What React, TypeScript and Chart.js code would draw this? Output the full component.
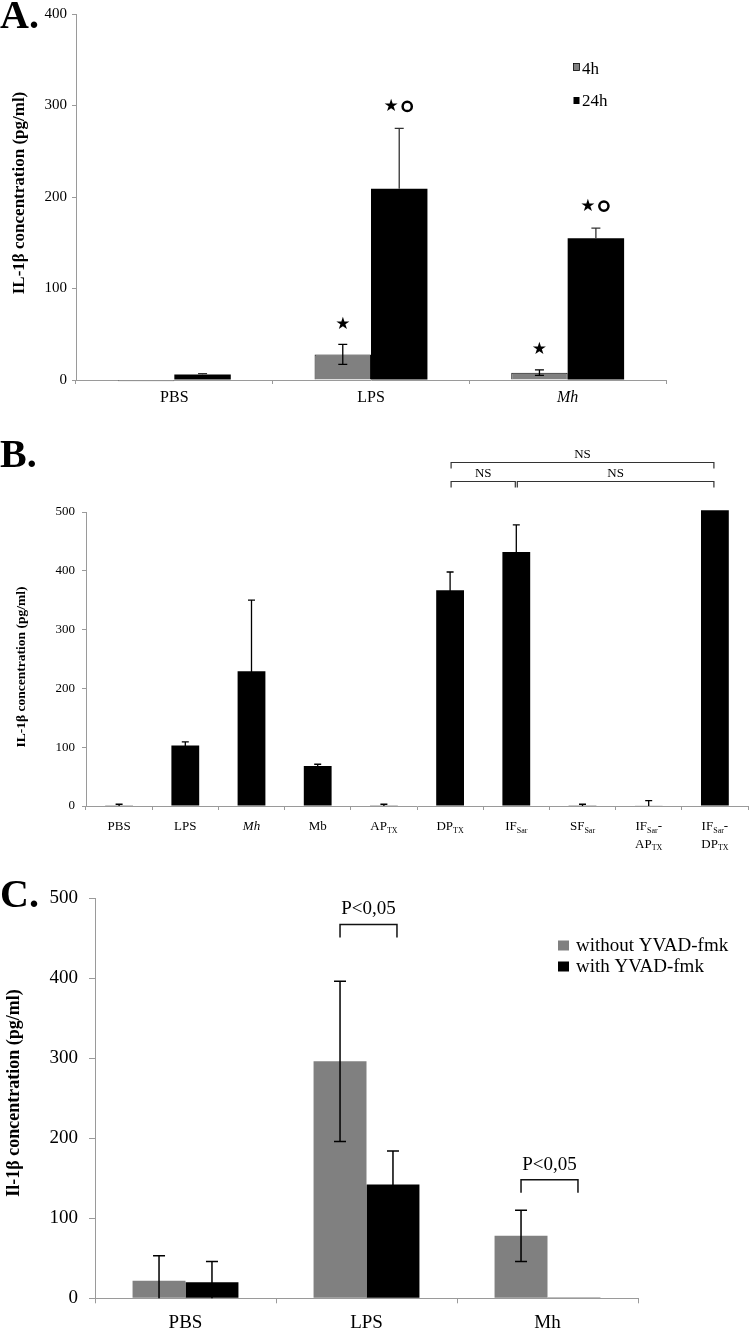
import React, { useEffect, useRef } from "react";
import { Chart, registerables } from "chart.js";

Chart.register(...registerables);

const SERIF = '"Liberation Serif", "Times New Roman", Times, serif';
const SYMBOL = '"DejaVu Sans", sans-serif';
const AXIS = "#9a9a9a";
const GRAY = "#808080";

// ---------- Panel A ----------
const aCategories = ["PBS", "LPS", "Mh"];
const aItalic = [false, false, true];
const aSeries = ["4h", "24h"];
const a4h = [-1.5, 28, 8];
const a4hErr = [0, 11, 3];
const a24h = [6, 209, 155];
const a24hErr = [1, 66, 11];
const a4hMarks = ["", "★", "★"];
const a24hMarks = ["", "★○", "★○"];
const aYTicks = [0, 100, 200, 300, 400];

// ---------- Panel B ----------
const bCategories = [
  "PBS",
  "LPS",
  "*Mh*",
  "Mb",
  "AP_{TX}",
  "DP_{TX}",
  "IF_{Sar}",
  "SF_{Sar}",
  "IF_{Sar}-|AP_{TX}",
  "IF_{Sar}-|DP_{TX}",
];
const bValues = [0.5, 103, 229, 68, 0.5, 367, 432, 0.5, 1, 503];
const bErr = [2.5, 6, 121, 3, 2.5, 31, 46, 2.5, 8, 0];
const bYTicks = [0, 100, 200, 300, 400, 500];
const bBrackets = [
  { from: 5, to: 9, level: 585, label: "NS" },
  { from: 5, to: 6, level: 553, label: "NS" },
  { from: 6, to: 9, level: 553, label: "NS" },
];

// ---------- Panel C ----------
const cCategories = ["PBS", "LPS", "Mh"];
const cSeries = ["without YVAD-fmk", "with YVAD-fmk"];
const cWithout = [22, 296, 78];
const cWithoutErr = [31, 100, 32];
const cWith = [20, 142, 1];
const cWithErr = [26, 42, 0];
const cYTicks = [0, 100, 200, 300, 400, 500];
const cBrackets = [
  { cat: 1, level: 467, label: "P<0,05" },
  { cat: 2, level: 148, label: "P<0,05" },
];

// ---------- helpers ----------
function drawErrors(chart: any, ds: number, vals: number[], errs: number[], cap: number, color: string, lw: number, lower = true) {
  const ctx = chart.ctx;
  const ys = chart.scales.y;
  const meta = chart.getDatasetMeta(ds);
  ctx.save();
  ctx.strokeStyle = color;
  ctx.lineWidth = lw;
  vals.forEach((v, i) => {
    const e = errs[i];
    if (!e) return;
    const x = meta.data[i].x;
    const top = ys.getPixelForValue(v + e);
    const bot = lower ? ys.getPixelForValue(Math.max(0, v - e)) : ys.getPixelForValue(v);
    ctx.beginPath();
    ctx.moveTo(x, top);
    ctx.lineTo(x, bot);
    ctx.moveTo(x - cap / 2, top);
    ctx.lineTo(x + cap / 2, top);
    if (lower && v - e > 0) {
      ctx.moveTo(x - cap / 2, bot);
      ctx.lineTo(x + cap / 2, bot);
    }
    ctx.stroke();
  });
  ctx.restore();
}

function drawYTitle(ctx: any, text: string, x: number, y: number, size: number) {
  ctx.save();
  ctx.translate(x, y);
  ctx.rotate(-Math.PI / 2);
  ctx.font = `bold ${size}px ${SERIF}`;
  ctx.fillStyle = "#000";
  ctx.textAlign = "center";
  ctx.textBaseline = "middle";
  ctx.fillText(text, 0, 0);
  ctx.restore();
}

function drawLetter(ctx: any, text: string, baseline: number) {
  ctx.save();
  ctx.font = `bold 40px ${SERIF}`;
  ctx.fillStyle = "#000";
  ctx.textAlign = "left";
  ctx.textBaseline = "alphabetic";
  ctx.fillText(text, 0, baseline);
  ctx.restore();
}

type Seg = { t: string; sub?: boolean; it?: boolean; w?: number };
function parseRich(s: string): Seg[] {
  const out: Seg[] = [];
  const re = /_\{([^}]*)\}|\*([^*]+)\*|([^_*]+)/g;
  let m: RegExpExecArray | null;
  while ((m = re.exec(s))) {
    if (m[1] !== undefined) out.push({ t: m[1], sub: true });
    else if (m[2] !== undefined) out.push({ t: m[2], it: true });
    else out.push({ t: m[3] });
  }
  return out;
}
function drawRich(ctx: any, s: string, cx: number, baseY: number, size: number) {
  const segs = parseRich(s);
  const fontOf = (g: Seg) => `${g.it ? "italic " : ""}${g.sub ? Math.round(size * 0.62) : size}px ${SERIF}`;
  let w = 0;
  segs.forEach((g) => {
    ctx.font = fontOf(g);
    g.w = ctx.measureText(g.t).width;
    w += g.w as number;
  });
  let x = cx - w / 2;
  ctx.textAlign = "left";
  ctx.textBaseline = "alphabetic";
  segs.forEach((g) => {
    ctx.font = fontOf(g);
    ctx.fillText(g.t, x, baseY + (g.sub ? size * 0.22 : 0));
    x += g.w as number;
  });
}

function xScale(height: number, fontSize: number, pad: number, tickLen: number, italic?: boolean[], showTicks = true) {
  return {
    type: "category",
    offset: true,
    grid: { display: true, offset: true, drawOnChartArea: false, drawTicks: true, tickLength: tickLen, color: AXIS },
    border: { display: true, color: AXIS, width: 1 },
    ticks: {
      display: showTicks,
      color: "#000",
      padding: pad,
      maxRotation: 0,
      autoSkip: false,
      font: (c: any) => ({ family: SERIF, size: fontSize, style: italic && italic[c.index] ? "italic" : "normal" }),
    },
    afterFit: (s: any) => {
      s.height = height;
    },
  };
}

function yScale(ticks: number[], width: number, fontSize: number, pad: number, tickLen: number) {
  return {
    min: ticks[0],
    max: ticks[ticks.length - 1],
    grid: { display: true, drawOnChartArea: false, drawTicks: true, tickLength: tickLen, color: AXIS },
    border: { display: true, color: AXIS, width: 1 },
    ticks: { stepSize: ticks[1] - ticks[0], color: "#000", padding: pad, font: { family: SERIF, size: fontSize } },
    afterFit: (s: any) => {
      s.width = width;
    },
  };
}

const baseOptions = {
  responsive: false,
  animation: false,
  events: [],
  plugins: { legend: { display: false }, tooltip: { enabled: false } },
};

// ---------- Panel A config ----------
const aPlugin = {
  id: "aExtras",
  afterDatasetsDraw(chart: any) {
    const ctx = chart.ctx;
    const ys = chart.scales.y;
    drawErrors(chart, 0, a4h, a4hErr, 9, "#000", 1.3);
    drawErrors(chart, 1, a24h, a24hErr, 9, "#333", 1.3, false);
    const m0 = chart.getDatasetMeta(0);
    const m1 = chart.getDatasetMeta(1);
    ctx.save();
    ctx.fillStyle = "#000";
    ctx.textAlign = "center";
    ctx.textBaseline = "middle";
    a4hMarks.forEach((mk, i) => {
      if (!mk) return;
      const y = ys.getPixelForValue(a4h[i] + a4hErr[i]) - 20;
      ctx.font = `17px ${SYMBOL}`;
      ctx.fillText("★", m0.data[i].x, y);
    });
    a24hMarks.forEach((mk, i) => {
      if (!mk) return;
      const y = ys.getPixelForValue(a24h[i] + a24hErr[i]) - 22;
      const x = m1.data[i].x;
      ctx.font = `17px ${SYMBOL}`;
      ctx.fillText("★", x - 8, y);
      ctx.beginPath();
      ctx.lineWidth = 2.5;
      ctx.strokeStyle = "#000";
      ctx.arc(x + 8, y, 4.6, 0, Math.PI * 2);
      ctx.stroke();
    });
    ctx.restore();
  },
  afterDraw(chart: any) {
    const ctx = chart.ctx;
    drawLetter(ctx, "A.", 28);
    drawYTitle(ctx, "IL-1β concentration (pg/ml)", 20, 193, 17);
    // legend
    ctx.save();
    ctx.fillStyle = GRAY;
    ctx.fillRect(573.5, 63.5, 6, 7);
    ctx.strokeStyle = "#000";
    ctx.lineWidth = 0.8;
    ctx.strokeRect(573.5, 63.5, 6, 7);
    ctx.fillStyle = "#000";
    ctx.fillRect(573.5, 97, 6, 7);
    ctx.font = `17px ${SERIF}`;
    ctx.textAlign = "left";
    ctx.textBaseline = "middle";
    ctx.fillText(aSeries[0], 582, 70);
    ctx.fillText(aSeries[1], 582, 102);
    ctx.restore();
  },
};

// ---------- Panel B config ----------
const bPlugin = {
  id: "bExtras",
  afterDatasetsDraw(chart: any) {
    drawErrors(chart, 0, bValues, bErr, 7, "#000", 1.3);
  },
  afterDraw(chart: any) {
    const ctx = chart.ctx;
    const xs = chart.scales.x;
    const ys = chart.scales.y;
    drawLetter(ctx, "B.", 57);
    drawYTitle(ctx, "IL-1β concentration (pg/ml)", 22, 257, 13.5);
    ctx.save();
    ctx.fillStyle = "#000";
    bCategories.forEach((lab, i) => {
      const cx = xs.getPixelForValue(i);
      lab.split("|").forEach((line, li) => {
        drawRich(ctx, line, cx, 420 + li * 17.5, 13);
      });
    });
    ctx.strokeStyle = "#333";
    ctx.lineWidth = 1.2;
    bBrackets.forEach((b) => {
      const x1 = xs.getPixelForValue(b.from) + 1;
      const x2 = xs.getPixelForValue(b.to) - 1;
      const y = Math.round(ys.getPixelForValue(b.level)) + 0.5;
      ctx.beginPath();
      ctx.moveTo(x1, y + 6);
      ctx.lineTo(x1, y);
      ctx.lineTo(x2, y);
      ctx.lineTo(x2, y + 6);
      ctx.stroke();
      ctx.font = `13px ${SERIF}`;
      ctx.textAlign = "center";
      ctx.textBaseline = "middle";
      ctx.fillText(b.label, (x1 + x2) / 2, y - 8);
    });
    ctx.restore();
  },
};

// ---------- Panel C config ----------
const cPlugin = {
  id: "cExtras",
  afterDatasetsDraw(chart: any) {
    drawErrors(chart, 0, cWithout, cWithoutErr, 12, "#000", 1.5);
    drawErrors(chart, 1, cWith, cWithErr, 12, "#000", 1.5);
  },
  afterDraw(chart: any) {
    const ctx = chart.ctx;
    const ys = chart.scales.y;
    const m0 = chart.getDatasetMeta(0);
    const m1 = chart.getDatasetMeta(1);
    drawLetter(ctx, "C.", 47);
    drawYTitle(ctx, "Il-1β concentration (pg/ml)", 14, 233, 18);
    ctx.save();
    ctx.strokeStyle = "#111";
    ctx.fillStyle = "#000";
    ctx.lineWidth = 1.5;
    cBrackets.forEach((b) => {
      const x1 = m0.data[b.cat].x;
      const x2 = m1.data[b.cat].x + 4;
      const y = ys.getPixelForValue(b.level);
      ctx.beginPath();
      ctx.moveTo(x1, y + 13);
      ctx.lineTo(x1, y);
      ctx.lineTo(x2, y);
      ctx.lineTo(x2, y + 13);
      ctx.stroke();
      ctx.font = `19px ${SERIF}`;
      ctx.textAlign = "center";
      ctx.textBaseline = "middle";
      ctx.fillText(b.label, (x1 + x2) / 2, y - 15);
    });
    // legend
    ctx.fillStyle = GRAY;
    ctx.fillRect(558, 80.5, 11, 10);
    ctx.fillStyle = "#000";
    ctx.fillRect(558, 101.5, 11, 10);
    ctx.font = `19px ${SERIF}`;
    ctx.textAlign = "left";
    ctx.textBaseline = "middle";
    ctx.fillText(cSeries[0], 576, 86);
    ctx.fillText(cSeries[1], 576, 107.5);
    ctx.restore();
  },
};

export default function App() {
  const aRef = useRef<HTMLCanvasElement>(null);
  const bRef = useRef<HTMLCanvasElement>(null);
  const cRef = useRef<HTMLCanvasElement>(null);

  useEffect(() => {
    const charts: Chart[] = [];
    charts.push(
      new Chart(aRef.current as HTMLCanvasElement, {
        type: "bar",
        data: {
          labels: aCategories,
          datasets: [
            { label: aSeries[0], data: a4h, backgroundColor: GRAY, borderColor: "#111", borderWidth: 1, clip: false } as any,
            { label: aSeries[1], data: a24h, backgroundColor: "#000", borderWidth: 0, clip: false } as any,
          ],
        },
        options: {
          ...baseOptions,
          layout: { padding: { left: 0, top: 12, right: 84, bottom: 0 } },
          datasets: { bar: { categoryPercentage: 0.574, barPercentage: 1 } },
          scales: {
            x: xScale(30, 16, 4, 4, aItalic) as any,
            y: yScale(aYTicks, 76, 15, 5, 4) as any,
          },
        } as any,
        plugins: [aPlugin],
      })
    );
    charts.push(
      new Chart(bRef.current as HTMLCanvasElement, {
        type: "bar",
        data: {
          labels: bCategories,
          datasets: [{ label: "IL-1β", data: bValues, backgroundColor: "#000", borderWidth: 0, clip: false } as any],
        },
        options: {
          ...baseOptions,
          layout: { padding: { left: 0, top: 102, right: 2, bottom: 0 } },
          datasets: { bar: { categoryPercentage: 0.42, barPercentage: 1 } },
          scales: {
            x: xScale(54, 13, 4, 4, undefined, false) as any,
            y: yScale(bYTicks, 86, 13, 7, 4) as any,
          },
        } as any,
        plugins: [bPlugin],
      })
    );
    charts.push(
      new Chart(cRef.current as HTMLCanvasElement, {
        type: "bar",
        data: {
          labels: cCategories,
          datasets: [
            { label: cSeries[0], data: cWithout, backgroundColor: GRAY, borderWidth: 0 } as any,
            { label: cSeries[1], data: cWith, backgroundColor: "#000", borderWidth: 0 } as any,
          ],
        },
        options: {
          ...baseOptions,
          layout: { padding: { left: 0, top: 38, right: 112, bottom: 0 } },
          datasets: { bar: { categoryPercentage: 0.585, barPercentage: 1 } },
          scales: {
            x: xScale(31.7, 19, 8, 5) as any,
            y: yScale(cYTicks, 95, 19, 11, 6) as any,
          },
        } as any,
        plugins: [cPlugin],
      })
    );
    return () => charts.forEach((c) => c.destroy());
  }, []);

  return (
    <div style={{ position: "absolute", left: 0, top: 0, width: 750, height: 1330, background: "#fff" }}>
      <canvas ref={aRef} width={750} height={410} style={{ position: "absolute", left: 0, top: 0, width: 750, height: 410 }} />
      <canvas ref={bRef} width={750} height={450} style={{ position: "absolute", left: 0, top: 410, width: 750, height: 450 }} />
      <canvas ref={cRef} width={750} height={470} style={{ position: "absolute", left: 0, top: 860, width: 750, height: 470 }} />
    </div>
  );
}
